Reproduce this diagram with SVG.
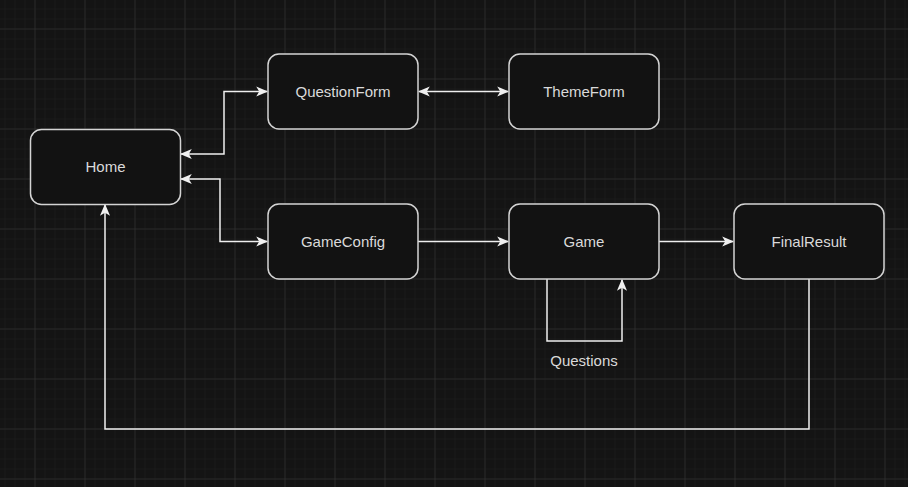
<svg xmlns="http://www.w3.org/2000/svg" width="908" height="487" viewBox="0 0 908 487">
<defs>
<pattern id="minor" x="4.5" y="8.5" width="10" height="10" patternUnits="userSpaceOnUse">
<path d="M0 0H10M0 0V10" fill="none" stroke="#202020" stroke-width="1"/>
</pattern>
<pattern id="major" x="34.5" y="28.5" width="50" height="50" patternUnits="userSpaceOnUse">
<path d="M0 0H50M0 0V50" fill="none" stroke="#363636" stroke-width="1"/>
</pattern>
<marker id="arr" viewBox="0 0 10 10" refX="9" refY="5" markerWidth="12" markerHeight="12" markerUnits="userSpaceOnUse" orient="auto-start-reverse">
<path d="M0 0.8 L10 5 L0 9.2 L2.5 5 Z" fill="#f0f0f0"/>
</marker>
</defs>
<style>
.node rect{fill:#121212;stroke:#d4d4d4;stroke-width:1.5}
.node text,.lbl{font-family:"Liberation Sans",Arial,sans-serif;font-size:15px;fill:#dadada;text-anchor:middle;dominant-baseline:central}
.edge{fill:none;stroke:#f0f0f0;stroke-width:1.5}
</style>
<rect width="908" height="487" fill="#141414"/>
<rect width="908" height="487" fill="url(#minor)"/>
<rect width="908" height="487" fill="url(#major)"/>
<g id="connectors">
<path class="edge" d="M181 154H224V91.5H267" marker-start="url(#arr)" marker-end="url(#arr)"/>
<path class="edge" d="M181 179H220V241.5H267" marker-start="url(#arr)" marker-end="url(#arr)"/>
<path class="edge" d="M419 91.5H508" marker-start="url(#arr)" marker-end="url(#arr)"/>
<path class="edge" d="M418 241.5H508" marker-end="url(#arr)"/>
<path class="edge" d="M659 241.5H733" marker-end="url(#arr)"/>
<path class="edge" d="M547 279V341H622V280" marker-end="url(#arr)"/>
<path class="edge" d="M809 279V429H105V205" marker-end="url(#arr)"/>
<text class="lbl" x="584" y="360">Questions</text>
</g>
<g id="home" class="node"><rect x="30.5" y="129.5" width="150" height="75" rx="11"/><text x="105.5" y="166">Home</text></g>
<g id="questionform" class="node"><rect x="268" y="54" width="150" height="75" rx="11"/><text x="343" y="91">QuestionForm</text></g>
<g id="themeform" class="node"><rect x="509" y="54" width="150" height="75" rx="11"/><text x="584" y="91">ThemeForm</text></g>
<g id="gameconfig" class="node"><rect x="268" y="204" width="150" height="75" rx="11"/><text x="343" y="241">GameConfig</text></g>
<g id="game" class="node"><rect x="509" y="204" width="150" height="75" rx="11"/><text x="584" y="241">Game</text></g>
<g id="finalresult" class="node"><rect x="734" y="204" width="150" height="75" rx="11"/><text x="809" y="241">FinalResult</text></g>
</svg>
